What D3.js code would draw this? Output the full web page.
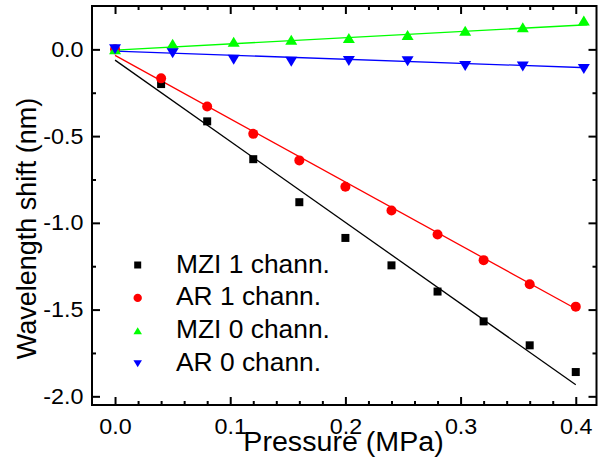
<!DOCTYPE html>
<html>
<head>
<meta charset="utf-8">
<script src="https://cdn.jsdelivr.net/npm/d3@7"></script>
<style>
  html, body { margin: 0; padding: 0; background: #fff; }
  svg { display: block; }
  text { font-family: "Liberation Sans", Arial, Helvetica, sans-serif; fill: #000; }
</style>
</head>
<body>
<svg id="chart" width="598" height="463"></svg>
<script>
// Pressure steps (MPa) and measured wavelength shifts (nm)
const pressure1 = [0, 0.04, 0.08, 0.12, 0.16, 0.20, 0.24, 0.28, 0.32, 0.36, 0.40];
const mzi1Shift = [0, -0.200, -0.415, -0.633, -0.881, -1.087, -1.245, -1.396, -1.568, -1.706, -1.860];
const ar1Shift  = [0, -0.167, -0.329, -0.487, -0.640, -0.792, -0.929, -1.067, -1.215, -1.354, -1.483];

const pressure0 = [0, 0.050, 0.103, 0.153, 0.203, 0.254, 0.304, 0.354, 0.407];
const mzi0Shift = [0, 0.032, 0.044, 0.055, 0.066, 0.083, 0.107, 0.128, 0.166];
const ar0Shift  = [0, -0.022, -0.060, -0.071, -0.067, -0.069, -0.096, -0.099, -0.113];

// Linear fit end points: [x0, x1] and [y0, y1]
const fitMzi1X = [0, 0.40], fitMzi1Y = [-0.062, -1.933];
const fitAr1X  = [0, 0.40], fitAr1Y  = [-0.035, -1.495];
const fitMzi0X = [0, 0.41], fitMzi0Y = [-0.004, 0.142];
const fitAr0X  = [0, 0.41], fitAr0Y  = [-0.010, -0.106];

const seriesNames = ["MZI 1 chann.", "AR 1 chann.", "MZI 0 chann.", "AR 0 chann."];
const seriesColors = ["#000000", "#ff0000", "#00ff00", "#0000ff"];
const seriesShapes = ["square", "circle", "up", "down"];

const xMajorTicks = [0, 0.1, 0.2, 0.3, 0.4];
const xMinorTicks = [0.02, 0.04, 0.06, 0.08, 0.12, 0.14, 0.16, 0.18, 0.22, 0.24, 0.26, 0.28, 0.32, 0.34, 0.36, 0.38];
const yMajorTicks = [0, -0.5, -1.0, -1.5, -2.0];
const yMinorTicks = [-0.25, -0.75, -1.25, -1.75];

const xTitle = "Pressure (MPa)";
const yTitle = "Wavelength shift (nm)";

const svg = d3.select("#chart");
const L = 92, R = 596.5, T = 6, B = 405;
const x = d3.scaleLinear().domain([-0.02, 0.418]).range([L, R]);
const y = d3.scaleLinear().domain([-2.05, 0.25]).range([B, T]);
const SX = 1.06; // horizontal text stretch

function styleAxis(g) {
  g.select(".domain").remove();
  g.selectAll(".tick line").attr("stroke", "#000").attr("stroke-width", 2);
}

// Tick labels with a plain hyphen as the minus sign
const fmt = v => v.toFixed(1).replace("\u2212", "-");

// Major / minor ticks on all four sides, pointing inward
svg.append("g").attr("transform", `translate(0,${B})`)
  .call(d3.axisBottom(x).tickValues(xMajorTicks).tickSize(-8).tickPadding(13).tickFormat(fmt))
  .call(styleAxis)
  .call(g => g.selectAll("text").attr("font-size", 22).attr("transform", `scale(${SX},1)`)
    .attr("font-family", "Liberation Sans, Arial, sans-serif").attr("fill", "#000"));
svg.append("g").attr("transform", `translate(0,${B})`)
  .call(d3.axisBottom(x).tickValues(xMinorTicks).tickSize(-4).tickFormat(""))
  .call(styleAxis);
svg.append("g").attr("transform", `translate(0,${T})`)
  .call(d3.axisTop(x).tickValues(xMajorTicks).tickSize(-8).tickFormat(""))
  .call(styleAxis);
svg.append("g").attr("transform", `translate(0,${T})`)
  .call(d3.axisTop(x).tickValues(xMinorTicks).tickSize(-4).tickFormat(""))
  .call(styleAxis);

svg.append("g").attr("transform", `translate(${L},0)`)
  .call(d3.axisLeft(y).tickValues(yMajorTicks).tickSize(-8).tickPadding(8).tickFormat(fmt))
  .call(styleAxis)
  .call(g => g.selectAll("text").attr("font-size", 22).attr("transform", `scale(${SX},1)`)
    .attr("font-family", "Liberation Sans, Arial, sans-serif").attr("fill", "#000"));
svg.append("g").attr("transform", `translate(${L},0)`)
  .call(d3.axisLeft(y).tickValues(yMinorTicks).tickSize(-4).tickFormat(""))
  .call(styleAxis);
svg.append("g").attr("transform", `translate(${R},0)`)
  .call(d3.axisRight(y).tickValues(yMajorTicks).tickSize(-8).tickFormat(""))
  .call(styleAxis);
svg.append("g").attr("transform", `translate(${R},0)`)
  .call(d3.axisRight(y).tickValues(yMinorTicks).tickSize(-4).tickFormat(""))
  .call(styleAxis);

// Frame
svg.append("rect").attr("x", L).attr("y", T).attr("width", R - L).attr("height", B - T)
  .attr("fill", "none").attr("stroke", "#000").attr("stroke-width", 2);

// Marker path generators (centered on the bounding box)
function markerPath(shape, s) {
  if (shape === "square") return `M${-s.sq/2},${-s.sq/2}h${s.sq}v${s.sq}h${-s.sq}Z`;
  if (shape === "circle") { const r = s.r; return `M${-r},0a${r},${r} 0 1,0 ${2*r},0a${r},${r} 0 1,0 ${-2*r},0Z`; }
  const w = s.tw / 2, h = s.th / 2;
  if (shape === "up") return `M0,${-h}L${w},${h}L${-w},${h}Z`;
  return `M0,${h}L${w},${-h}L${-w},${-h}Z`;
}
const plotSize = { sq: 8, r: 5, tw: 12, th: 10 };
const legendSize = { sq: 7, r: 4.2, tw: 8.5, th: 7 };

const series = [
  { xs: pressure1, ys: mzi1Shift, fx: fitMzi1X, fy: fitMzi1Y },
  { xs: pressure1, ys: ar1Shift,  fx: fitAr1X,  fy: fitAr1Y },
  { xs: pressure0, ys: mzi0Shift, fx: fitMzi0X, fy: fitMzi0Y },
  { xs: pressure0, ys: ar0Shift,  fx: fitAr0X,  fy: fitAr0Y }
];

const line = d3.line().x(d => x(d[0])).y(d => y(d[1]));
const plot = svg.append("g");
series.forEach((s, i) => {
  plot.append("path")
    .attr("d", line(s.fx.map((v, k) => [v, s.fy[k]])))
    .attr("fill", "none").attr("stroke", seriesColors[i]).attr("stroke-width", 1.3);
});
series.forEach((s, i) => {
  plot.selectAll(null).data(s.xs.map((v, k) => [v, s.ys[k]])).join("path")
    .attr("transform", d => `translate(${x(d[0])},${y(d[1])})`)
    .attr("d", markerPath(seriesShapes[i], plotSize))
    .attr("fill", seriesColors[i]);
});

// Legend
const legend = svg.append("g");
seriesNames.forEach((name, i) => {
  const by = 272.5 + i * 32.9;
  legend.append("path")
    .attr("transform", `translate(137.7,${by - 7.5})`)
    .attr("d", markerPath(seriesShapes[i], legendSize))
    .attr("fill", seriesColors[i]);
  legend.append("text")
    .attr("transform", `translate(176,${by}) scale(1.055,1)`)
    .attr("font-size", 25)
    .text(name);
});

// Axis titles
svg.append("text")
  .attr("transform", `translate(343.5,451) scale(${SX},1)`)
  .attr("text-anchor", "middle").attr("font-size", 27)
  .text(xTitle);
svg.append("text")
  .attr("transform", `translate(35.5,228.5) rotate(-90)`)
  .attr("text-anchor", "middle").attr("font-size", 27)
  .text(yTitle);
</script>
</body>
</html>
